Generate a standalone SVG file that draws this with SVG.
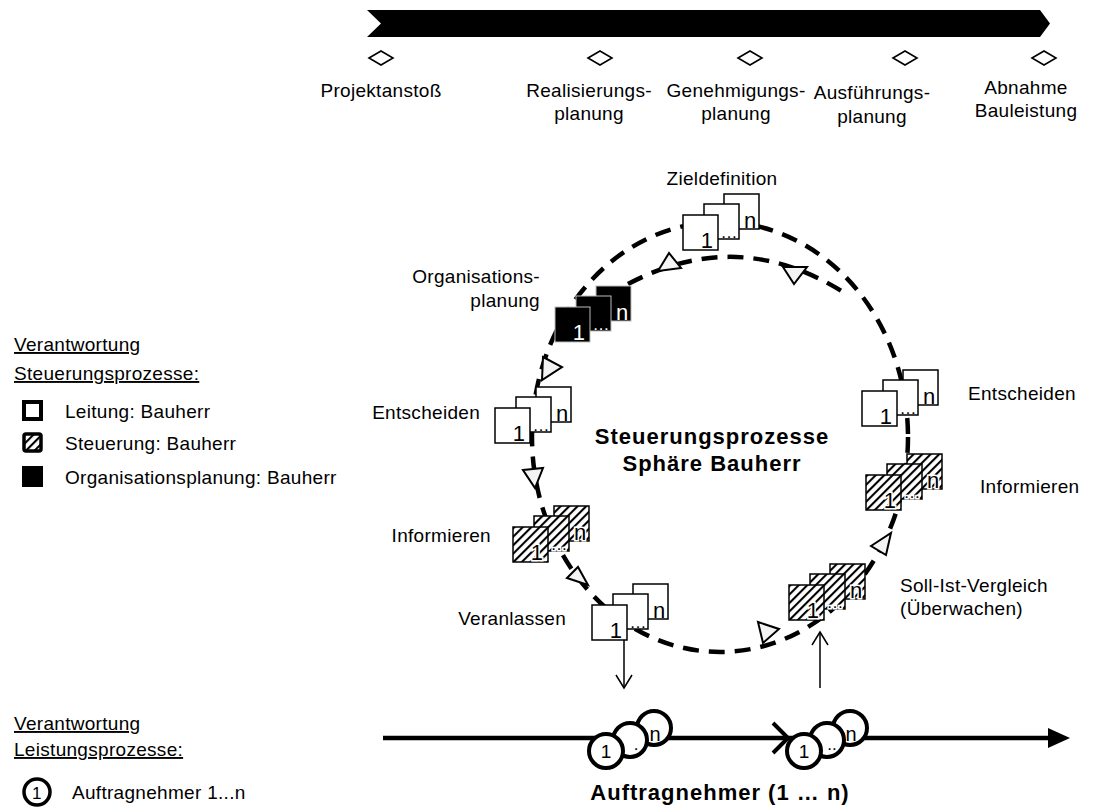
<svg xmlns="http://www.w3.org/2000/svg" width="1105" height="812" viewBox="0 0 1105 812">
<defs>
<pattern id="hatch" width="6" height="6" patternUnits="userSpaceOnUse" patternTransform="rotate(45)">
<rect width="6" height="6" fill="#fff"/>
<line x1="1" y1="0" x2="1" y2="6" stroke="#000" stroke-width="2.2"/>
</pattern>
<style>
text{font-family:"Liberation Sans",Arial,sans-serif;fill:#000}
.lbl{font-size:19px;letter-spacing:0.3px}
.bold{font-size:22px;font-weight:bold;letter-spacing:1px}
.ul{text-decoration:underline}
.bw{fill:#fff;stroke:#000;stroke-width:1.5}
.bh{fill:url(#hatch);stroke:#000;stroke-width:1.5}
.bb{fill:#000;stroke:#bbb;stroke-width:1}
.num{font-size:22px}
.dots{font-size:17px}
.wt{fill:#fff}
.halo{stroke:#fff;stroke-width:3;paint-order:stroke}
.dash{fill:none;stroke:#000;stroke-width:4.5;stroke-dasharray:16 10}
.tri{fill:#f4f4f4;stroke:#000;stroke-width:2}
.circ{fill:#fff;stroke:#000;stroke-width:4}
.thin{fill:none;stroke:#000;stroke-width:1.5}
.dia{fill:#fff;stroke:#000;stroke-width:1.6}
</style>
</defs>

<!-- timeline -->
<g id="timeline">
<path d="M367,10 L1040,10 L1050,23.5 L1040,37 L367,37 L381,23.5 Z" fill="#000"/>
<path class="dia" d="M369,58 L381,51 L393,58 L381,65 Z"/>
<path class="dia" d="M588,58 L600,51 L612,58 L600,65 Z"/>
<path class="dia" d="M738,58 L750,51 L762,58 L750,65 Z"/>
<path class="dia" d="M893,58 L905,51 L917,58 L905,65 Z"/>
<path class="dia" d="M1032,58 L1044,51 L1056,58 L1044,65 Z"/>
<text class="lbl" x="381" y="97" text-anchor="middle">Projektanstoß</text>
<text class="lbl" x="589" y="97" text-anchor="middle">Realisierungs-</text>
<text class="lbl" x="589" y="120" text-anchor="middle">planung</text>
<text class="lbl" x="736" y="97" text-anchor="middle">Genehmigungs-</text>
<text class="lbl" x="736" y="120" text-anchor="middle">planung</text>
<text class="lbl" x="872" y="99" text-anchor="middle">Ausführungs-</text>
<text class="lbl" x="872" y="123" text-anchor="middle">planung</text>
<text class="lbl" x="1026" y="94" text-anchor="middle">Abnahme</text>
<text class="lbl" x="1026" y="117" text-anchor="middle">Bauleistung</text>
</g>

<!-- connectors -->
<g id="connectors">
<ellipse class="dash" cx="720" cy="437" rx="188" ry="215"/>
<path class="dash" d="M628,284 Q738,226 843,292"/>
<polygon class="tri" points="669,253 658,271 681,268"/>
<polygon class="tri" points="783,267 807,267 794,284"/>
<polygon class="tri" points="543,357 562,367 542,380"/>
<polygon class="tri" points="523,470 543,468 535,488"/>
<polygon class="tri" points="567,578 578,567 588,585"/>
<polygon class="tri" points="758,622 779,629 763,643"/>
<polygon class="tri" points="871,546 891,533 886,555"/>
<line class="thin" x1="624" y1="640" x2="624" y2="687"/>
<polyline class="thin" points="616,675 624,688 632,675"/>
<line class="thin" x1="820" y1="688" x2="820" y2="633"/>
<polyline class="thin" points="812,645 820,632 828,645"/>
<line x1="383" y1="738" x2="1052" y2="738" stroke="#000" stroke-width="4.5"/>
<polygon points="1048,728 1070,738 1048,748" fill="#000"/>
<polyline points="773,723 788,738 773,753" fill="none" stroke="#000" stroke-width="4"/>
</g>

<!-- stacks -->
<g id="zieldefinition">
<text class="lbl" x="722" y="185" text-anchor="middle">Zieldefinition</text>
<g transform="translate(683,215)">
<rect class="bw" x="41" y="-21" width="35" height="35"/>
<rect class="bw" x="21" y="-11" width="35" height="35"/>
<rect class="bw" x="0" y="0" width="35" height="35"/>
<text class="num" x="30" y="33" text-anchor="end">1</text>
<text class="dots" x="46" y="23" text-anchor="middle">…</text>
<text class="num" x="67" y="13" text-anchor="middle">n</text>
</g>
</g>

<g id="organisationsplanung">
<text class="lbl" x="540" y="283" text-anchor="end">Organisations-</text>
<text class="lbl" x="540" y="307" text-anchor="end">planung</text>
<g transform="translate(555,307)">
<rect class="bb" x="41" y="-21" width="35" height="35"/>
<rect class="bb" x="21" y="-11" width="35" height="35"/>
<rect class="bb" x="0" y="0" width="35" height="35"/>
<text class="num wt" x="30" y="33" text-anchor="end">1</text>
<text class="dots wt" x="46" y="23" text-anchor="middle">…</text>
<text class="num wt" x="67" y="13" text-anchor="middle">n</text>
</g>
</g>

<g id="entscheiden-links">
<text class="lbl" x="480" y="419" text-anchor="end">Entscheiden</text>
<g transform="translate(495,408)">
<rect class="bw" x="41" y="-21" width="35" height="35"/>
<rect class="bw" x="21" y="-11" width="35" height="35"/>
<rect class="bw" x="0" y="0" width="35" height="35"/>
<text class="num" x="30" y="33" text-anchor="end">1</text>
<text class="dots" x="46" y="23" text-anchor="middle">…</text>
<text class="num" x="67" y="13" text-anchor="middle">n</text>
</g>
</g>

<g id="informieren-links">
<text class="lbl" x="491" y="542" text-anchor="end">Informieren</text>
<g transform="translate(513,527)">
<rect class="bh" x="41" y="-21" width="35" height="35"/>
<rect class="bh" x="21" y="-11" width="35" height="35"/>
<rect class="bh" x="0" y="0" width="35" height="35"/>
<text class="num halo" x="30" y="33" text-anchor="end">1</text>
<text class="dots halo" x="46" y="23" text-anchor="middle">…</text>
<text class="num halo" x="67" y="13" text-anchor="middle">n</text>
</g>
</g>

<g id="veranlassen">
<text class="lbl" x="566" y="625" text-anchor="end">Veranlassen</text>
<g transform="translate(592,605)">
<rect class="bw" x="41" y="-21" width="35" height="35"/>
<rect class="bw" x="21" y="-11" width="35" height="35"/>
<rect class="bw" x="0" y="0" width="35" height="35"/>
<text class="num" x="30" y="33" text-anchor="end">1</text>
<text class="dots" x="46" y="23" text-anchor="middle">…</text>
<text class="num" x="67" y="13" text-anchor="middle">n</text>
</g>
</g>

<g id="soll-ist-vergleich">
<text class="lbl" x="900" y="592">Soll-Ist-Vergleich</text>
<text class="lbl" x="900" y="615">(Überwachen)</text>
<g transform="translate(789,585)">
<rect class="bh" x="41" y="-21" width="35" height="35"/>
<rect class="bh" x="21" y="-11" width="35" height="35"/>
<rect class="bh" x="0" y="0" width="35" height="35"/>
<text class="num halo" x="30" y="33" text-anchor="end">1</text>
<text class="dots halo" x="46" y="23" text-anchor="middle">…</text>
<text class="num halo" x="67" y="13" text-anchor="middle">n</text>
</g>
</g>

<g id="informieren-rechts">
<text class="lbl" x="980" y="493">Informieren</text>
<g transform="translate(866,475)">
<rect class="bh" x="41" y="-21" width="35" height="35"/>
<rect class="bh" x="21" y="-11" width="35" height="35"/>
<rect class="bh" x="0" y="0" width="35" height="35"/>
<text class="num halo" x="30" y="33" text-anchor="end">1</text>
<text class="dots halo" x="46" y="23" text-anchor="middle">…</text>
<text class="num halo" x="67" y="13" text-anchor="middle">n</text>
</g>
</g>

<g id="entscheiden-rechts">
<text class="lbl" x="968" y="400">Entscheiden</text>
<g transform="translate(862,391)">
<rect class="bw" x="41" y="-21" width="35" height="35"/>
<rect class="bw" x="21" y="-11" width="35" height="35"/>
<rect class="bw" x="0" y="0" width="35" height="35"/>
<text class="num" x="30" y="33" text-anchor="end">1</text>
<text class="dots" x="46" y="23" text-anchor="middle">…</text>
<text class="num" x="67" y="13" text-anchor="middle">n</text>
</g>
</g>

<g id="titel">
<text class="bold" x="712" y="444" text-anchor="middle">Steuerungsprozesse</text>
<text class="bold" x="712" y="471" text-anchor="middle">Sphäre Bauherr</text>
</g>

<!-- contractors -->
<g id="auftragnehmer-1">
<circle class="circ" cx="654" cy="728" r="17"/>
<circle class="circ" cx="630" cy="740" r="17"/>
<circle class="circ" cx="606" cy="751" r="17"/>
<text class="num" x="655" y="741" text-anchor="middle" style="font-size:20px">n</text>
<text class="dots" x="636" y="750" text-anchor="middle">.</text>
<text class="num" x="606" y="758" text-anchor="middle" style="font-size:19px">1</text>
</g>
<g id="auftragnehmer-2">
<circle class="circ" cx="850" cy="728" r="17"/>
<circle class="circ" cx="827" cy="740" r="17"/>
<circle class="circ" cx="804" cy="751" r="17"/>
<text class="num" x="851" y="741" text-anchor="middle" style="font-size:20px">n</text>
<text class="dots" x="832" y="750" text-anchor="middle">..</text>
<text class="num" x="804" y="758" text-anchor="middle" style="font-size:19px">1</text>
</g>
<g id="auftragnehmer-label">
<text class="bold" x="720" y="800" text-anchor="middle">Auftragnehmer  (1 … n)</text>
</g>

<!-- legend -->
<g id="legende-steuerung">
<text class="lbl ul" x="14" y="351">Verantwortung</text>
<text class="lbl ul" x="14" y="380">Steuerungsprozesse:</text>
<rect x="24" y="402" width="17" height="17" fill="#fff" stroke="#000" stroke-width="4"/>
<text class="lbl" x="65" y="418">Leitung: Bauherr</text>
<rect x="24" y="434" width="17" height="17" rx="2" fill="url(#hatch)" stroke="#000" stroke-width="3.5"/>
<text class="lbl" x="65" y="450">Steuerung: Bauherr</text>
<rect x="22" y="466" width="21" height="21" fill="#000"/>
<text class="lbl" x="65" y="484">Organisationsplanung: Bauherr</text>
</g>
<g id="legende-leistung">
<text class="lbl ul" x="14" y="730">Verantwortung</text>
<text class="lbl ul" x="14" y="756">Leistungsprozesse:</text>
<circle cx="37" cy="792" r="13" fill="#fff" stroke="#000" stroke-width="3.5"/>
<text class="lbl" x="37" y="799" text-anchor="middle" style="font-size:17px">1</text>
<text class="lbl" x="72" y="799">Auftragnehmer 1...n</text>
</g>
</svg>
